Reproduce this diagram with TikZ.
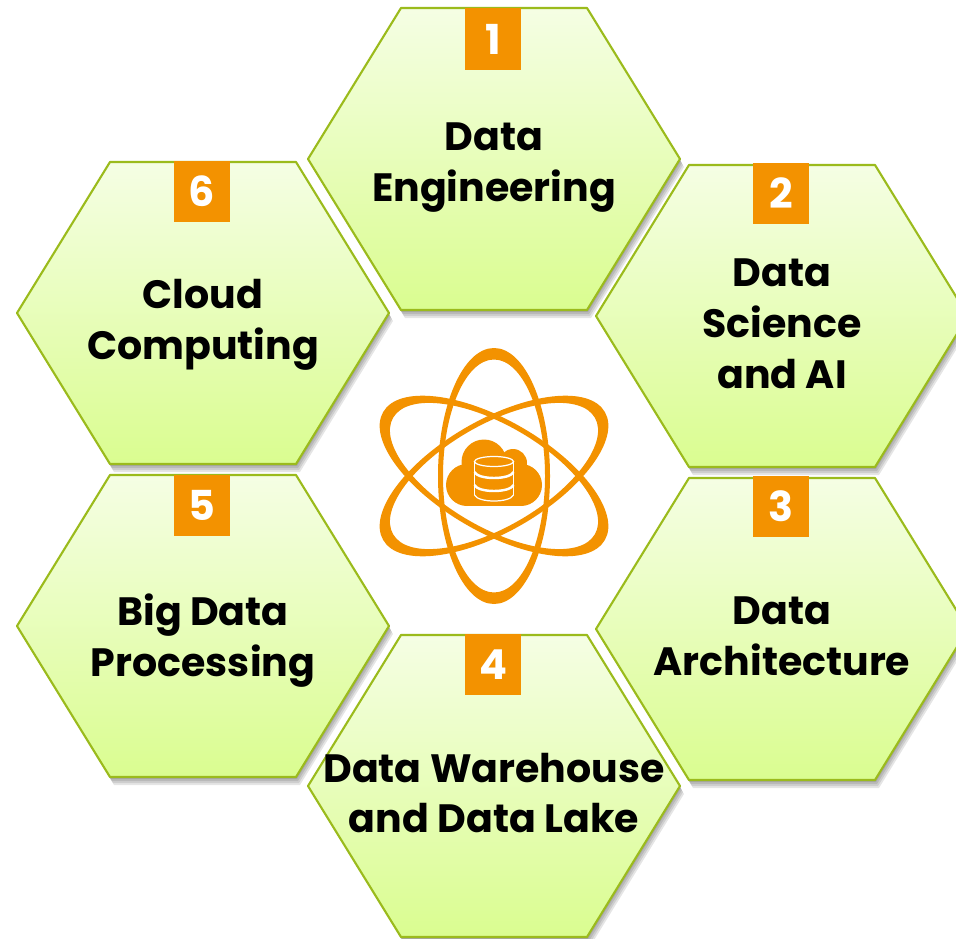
\documentclass[tikz,border=0pt]{standalone}
\usepackage{fontspec}
\setmainfont{Poppins}
\definecolor{hexedge}{HTML}{9BBB1C}
\definecolor{hextop}{HTML}{F5FEE4}
\definecolor{hexbot}{HTML}{DAFD90}
\definecolor{iconorange}{HTML}{F39200}
\tikzset{
  hexlabel/.style={align=center, inner sep=0pt, font=\fontsize{22.5}{29}\selectfont\bfseries, text=black},
  numbox/.style={fill=iconorange, minimum width=31.9pt, minimum height=34.8pt, inner sep=0pt, text=white, font=\fontsize{23.5}{23.5}\selectfont\bfseries},
}
\begin{document}
\begin{tikzpicture}[x=0.02cm, y=-0.02cm]
\def\hw{186};
\def\hs{93};
\def\hh{151};
\def\xc{494};
\def\yc{476};

\useasboundingbox (0,0) rectangle (956,939);
\clip (0,0) rectangle (956,939);

\foreach \nm/\cx/\cy/\by/\ty/\txt/\num in {
  one/494/159/39/168/{Data\\Engineering}/1,
  two/782/316/193.5/324/{Data\\Science\\and AI}/2,
  three/782/629/506.5/636/{Data\\Architecture}/3,
  four/494/786/664.5/793/{Data Warehouse\\and Data Lake}/4,
  five/203/626/505.5/641/{Big Data\\Processing}/5,
  six/203/313/191.5/325/{Cloud\\Computing}/6}
{
  \foreach \off in {8,6,4,2}
    \fill[black, opacity=0.1] (\cx-\hw+\off*0.5,\cy+\off) -- (\cx-\hs+\off*0.5,\cy-\hh+\off) -- (\cx+\hs+\off*0.5,\cy-\hh+\off) -- (\cx+\hw+\off*0.5,\cy+\off) -- (\cx+\hs+\off*0.5,\cy+\hh+\off) -- (\cx-\hs+\off*0.5,\cy+\hh+\off) -- cycle;
  \shade[top color=hextop, bottom color=hexbot, draw=hexedge, line width=1.2pt, line join=round] (\cx-\hw,\cy) -- (\cx-\hs,\cy-\hh) -- (\cx+\hs,\cy-\hh) -- (\cx+\hw,\cy) -- (\cx+\hs,\cy+\hh) -- (\cx-\hs,\cy+\hh) -- cycle;
  \node[numbox] (num\nm) at (\cx-1,\by) {\num};
  \node[hexlabel] (txt\nm) at (\cx,\ty) {\txt};
}

% orbits
\foreach \ang in {0,60,-60}
  \fill[iconorange, even odd rule, rotate around={\ang:(\xc,\yc)}] (\xc,\yc) ellipse [x radius=56, y radius=128] (\xc,\yc) ellipse [x radius=51, y radius=116.5];

% cloud
\fill[iconorange] (467,485) circle (21);
\fill[iconorange] (484,462) circle (22.5);
\fill[iconorange] (513,463) circle (14);
\fill[iconorange] (521,485) circle (21);
\fill[iconorange] (467,470) rectangle (521,506);

% database
\draw[white, line width=0.7pt] (494,461.5) ellipse [x radius=19.5, y radius=5];
\draw[white, line width=0.7pt] (474.5,461.5) -- (474.5,495) (513.5,461.5) -- (513.5,495);
\draw[white, line width=0.7pt] (474.5,495) .. controls (478,503) and (510,503) .. (513.5,495);
\draw[white, line width=1.4pt] (474.5,472) .. controls (478,480) and (510,480) .. (513.5,472);
\draw[white, line width=1.4pt] (474.5,485) .. controls (478,493) and (510,493) .. (513.5,485);

\end{tikzpicture}
\end{document}
